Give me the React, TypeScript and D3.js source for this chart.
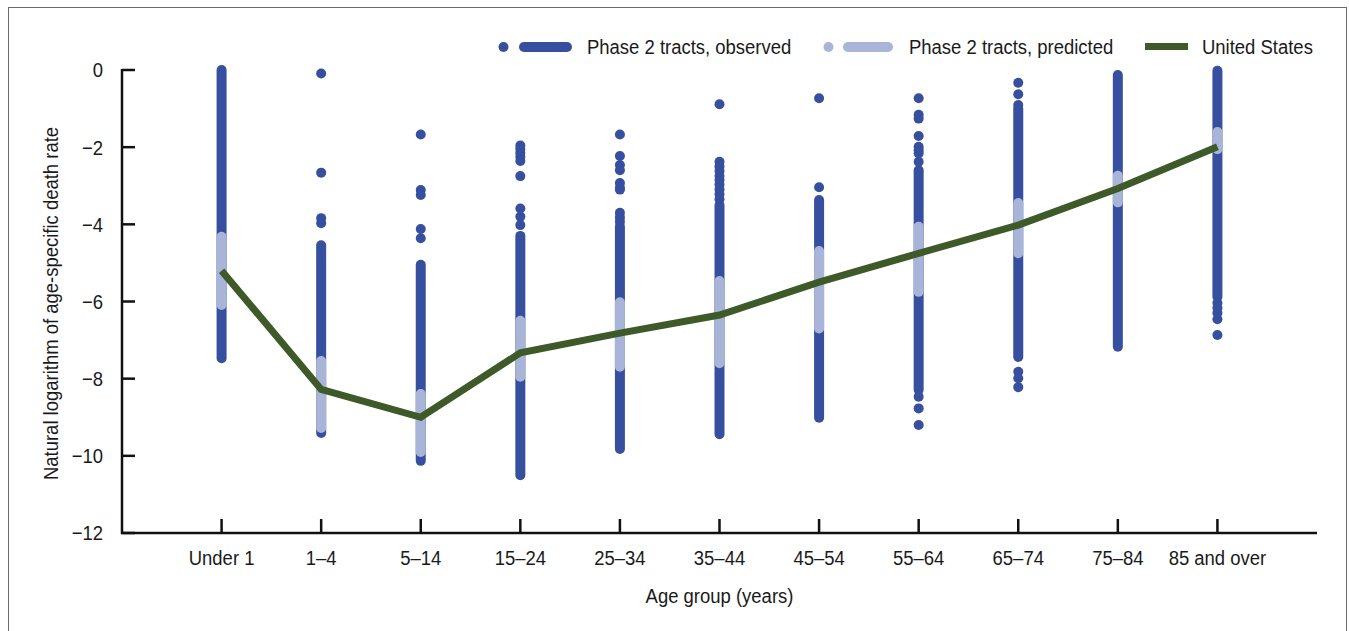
import React from "react";
import * as d3 from "d3";

// age groups on the x axis
const categories = [
  "Under 1", "1–4", "5–14", "15–24", "25–34", "35–44",
  "45–54", "55–64", "65–74", "75–84", "85 and over",
];

// observed tracts: continuous run of points (top / bottom) plus stray points
const observedTop = [0.0, -4.54, -5.05, -4.3, -4.06, -3.5, -3.37, -2.6, -1.0, -0.13, -0.02];
const observedBottom = [-7.47, -9.41, -10.13, -10.5, -9.82, -9.44, -9.01, -8.29, -7.44, -7.17, -5.88];
const observedOutliers = [
  [],
  [-0.09, -2.66, -3.84, -3.97],
  [-1.67, -3.11, -3.24, -4.12, -4.36],
  [-1.96, -2.05, -2.15, -2.25, -2.36, -2.75, -3.59, -3.8, -4.02],
  [-1.67, -2.23, -2.46, -2.6, -2.93, -3.05, -3.1, -3.7, -3.82, -3.93],
  [-0.89, -2.38, -2.5, -2.62, -2.75, -2.85, -2.97, -3.1, -3.22, -3.35],
  [-0.73, -3.04],
  [-0.73, -1.16, -1.26, -1.71, -1.99, -2.08, -2.16, -2.38, -8.47, -8.77, -9.2],
  [-0.33, -0.63, -0.91, -7.82, -7.99, -8.22],
  [],
  [-6.04, -6.17, -6.3, -6.46, -6.87],
];

// predicted tracts range
const predictedTop = [-4.32, -7.54, -8.4, -6.5, -6.02, -5.47, -4.69, -4.06, -3.45, -2.74, -1.61];
const predictedBottom = [-6.09, -9.28, -9.9, -7.95, -7.69, -7.6, -6.7, -5.75, -4.75, -3.43, -2.05];

// United States rate
const usRate = [-5.2, -8.28, -9.0, -7.33, -6.82, -6.35, -5.5, -4.75, -4.02, -3.07, -1.99];

const yTicks = [0, -2, -4, -6, -8, -10, -12];

const OBS = "#36509f";
const PRED = "#a9b5d8";
const US = "#3d5a28";
const FONT = "'Liberation Sans', Arial, sans-serif";
const SQUEEZE = 0.88; // condensed look

// text squeezed horizontally around its anchor
function Label({ x, y, rotate = 0, anchor = "start", children }: any) {
  return (
    <text
      transform={`translate(${x},${y}) rotate(${rotate}) scale(${SQUEEZE},1)`}
      textAnchor={anchor}
      dy="0.35em"
    >
      {children}
    </text>
  );
}

export default function App() {
  const left = 122;
  const right = 1317;
  const top = 70;
  const bottom = 533;

  const x = d3.scalePoint<string>().domain(categories).range([left, right]).padding(1);
  const y = d3.scaleLinear().domain([-12, 0]).range([bottom, top]);

  const line = d3
    .line<number>()
    .x((_, i) => x(categories[i]) as number)
    .y((d) => y(d));

  const fontSize = 21;

  return (
    <svg
      width={1349}
      height={631}
      style={{ position: "absolute", left: 0, top: 0, display: "block" }}
      fontFamily={FONT}
    >
      <rect x={0} y={0} width={1349} height={631} fill="#fff" />
      <rect x={8.5} y={7.5} width={1338} height={650} fill="none" stroke="#6b6b6b" strokeWidth={1} />

      {/* observed */}
      {categories.map((c, i) => (
        <g key={"o" + c}>
          <line
            x1={x(c)}
            x2={x(c)}
            y1={y(observedTop[i])}
            y2={y(observedBottom[i])}
            stroke={OBS}
            strokeWidth={10}
            strokeLinecap="round"
          />
          {observedOutliers[i].map((v, j) => (
            <circle key={j} cx={x(c)} cy={y(v)} r={5} fill={OBS} />
          ))}
        </g>
      ))}

      {/* predicted */}
      {categories.map((c, i) => (
        <line
          key={"p" + c}
          x1={x(c)}
          x2={x(c)}
          y1={y(predictedTop[i])}
          y2={y(predictedBottom[i])}
          stroke={PRED}
          strokeWidth={10}
          strokeLinecap="round"
        />
      ))}

      {/* United States */}
      <path d={line(usRate) || ""} fill="none" stroke={US} strokeWidth={7} strokeLinejoin="miter" />

      {/* axes */}
      <g stroke="#111" strokeWidth={2.5} fill="none">
        <path d={`M${left},${top - 1}V${bottom}H${right}`} />
        {yTicks.map((t) => (
          <line key={t} x1={left} x2={left + 13} y1={y(t)} y2={y(t)} />
        ))}
        {categories.map((c) => (
          <line key={c} x1={x(c)} x2={x(c)} y1={bottom} y2={bottom - 14} />
        ))}
      </g>
      <g fontSize={fontSize} fill="#1a1a1a">
        {yTicks.map((t) => (
          <Label key={t} x={103} y={y(t)} anchor="end">
            {t === 0 ? "0" : "−" + Math.abs(t)}
          </Label>
        ))}
        {categories.map((c) => (
          <Label key={c} x={x(c)} y={558} anchor="middle">
            {c}
          </Label>
        ))}
        <Label x={(left + right) / 2} y={596} anchor="middle">
          Age group (years)
        </Label>
        <Label x={51} y={(top + bottom) / 2 + 2} rotate={-90} anchor="middle">
          Natural logarithm of age-specific death rate
        </Label>
      </g>

      {/* legend */}
      <g fontSize={fontSize} fill="#1a1a1a">
        <circle cx={503.5} cy={47} r={5} fill={OBS} />
        <line x1={524} x2={567} y1={47} y2={47} stroke={OBS} strokeWidth={10} strokeLinecap="round" />
        <Label x={587} y={47}>Phase 2 tracts, observed</Label>

        <circle cx={828.5} cy={47} r={5} fill={PRED} />
        <line x1={848} x2={888} y1={47} y2={47} stroke={PRED} strokeWidth={10} strokeLinecap="round" />
        <Label x={909} y={47}>Phase 2 tracts, predicted</Label>

        <line x1={1145} x2={1188} y1={46.5} y2={46.5} stroke={US} strokeWidth={7} />
        <Label x={1202} y={47}>United States</Label>
      </g>
    </svg>
  );
}
